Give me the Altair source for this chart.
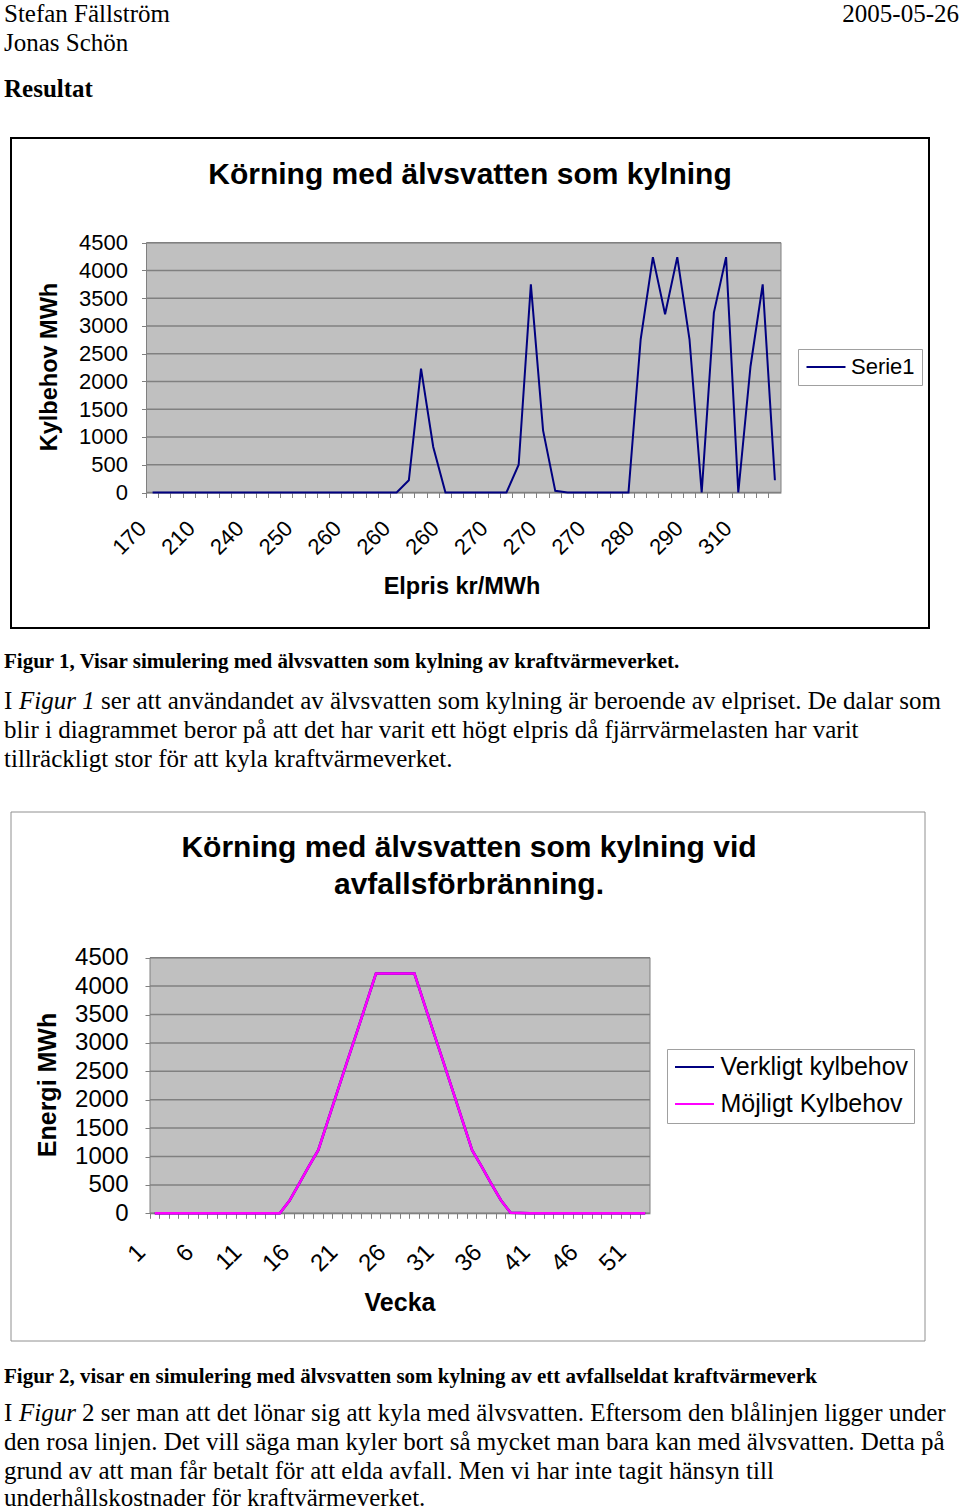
import json
import altair as alt
import pandas as pd

W, H = 960, 1511
SERIF = "Liberation Serif"
SANS = "Liberation Sans"

# ---------------- data ----------------
price_labels = ["170", "210", "240", "250", "260", "260", "260",
                "270", "270", "270", "280", "290", "310"]
kylbehov = ([0] * 21 + [220, 2230, 820, 0] + [0] * 5 + [500, 3750, 1120, 30, 0]
            + [0] * 5 + [2760, 4240, 3210, 4240, 2760, 0, 3240, 4240, 0, 2270, 3750, 220])
weeks = list(range(1, 53))
mojligt = ([0] * 14 + [220, 520, 820, 1110, 1630, 2150, 2670, 3180, 3700]
           + [4220] * 5 + [3700, 3180, 2670, 2150, 1630, 1110, 820, 520, 230, 10, 5]
           + [0] * 13)
verkligt = ([0] * 14 + [220, 520, 820, 1110, 1630, 2150, 2670, 3180, 3700]
            + [4220] * 5 + [3700, 3180, 2670, 2150, 1630, 1110, 820, 520, 230, 10, 5]
            + [0] * 13)
y_ticks = [0, 500, 1000, 1500, 2000, 2500, 3000, 3500, 4000, 4500]

dummy = pd.DataFrame({"d": [0]})


def txt(s, x, y, size=25, font=SERIF, weight="normal", style="normal",
        align="left", baseline="alphabetic", angle=0):
    kw = dict(text=s, font=font, fontSize=size, fontWeight=weight,
              fontStyle=style, align=align, baseline=baseline, color="black")
    if angle:
        kw["angle"] = angle
    return alt.Chart(dummy).mark_text(**kw).encode(x=alt.value(x), y=alt.value(y))


def box(x1, y1, x2, y2, fill, stroke, sw):
    return alt.Chart(dummy).mark_rect(fill=fill, stroke=stroke, strokeWidth=sw).encode(
        x=alt.value(x1), x2=alt.value(x2), y=alt.value(y1), y2=alt.value(y2))


GRID = "#808080"
BG = "#c0c0c0"


def make_panel(px1, px2, py_top, py0, x_enc, y_field, line_df, color_enc, line_w,
               lab_pad, lab_size):
    y_enc = alt.Y(f"{y_field}:Q",
                  scale=alt.Scale(domain=[0, 4500], range=[py0, py_top], nice=False, zero=False),
                  axis=alt.Axis(orient="left", offset=-px1, values=y_ticks, title=None,
                                format="d",
                                grid=False, tickSize=5, tickColor=GRID, domainColor=GRID,
                                labelFont=SANS, labelFontSize=lab_size, labelColor="black",
                                labelPadding=lab_pad))
    bg = box(px1, py_top, px2, py0, BG, GRID, 1)
    grid = alt.Chart(pd.DataFrame({y_field: y_ticks})).mark_rule(
        color=GRID, strokeWidth=1.5).encode(y=y_enc, x=alt.value(px1), x2=alt.value(px2))
    line = alt.Chart(line_df).mark_line(strokeWidth=line_w).encode(
        x=x_enc, y=y_enc, color=color_enc)
    return alt.layer(bg, grid, line)


# ---------------- chart 1 ----------------
c1_x1, c1_x2, c1_top, c1_0 = 146.5, 781, 242.7, 492.5
df1 = pd.DataFrame({"i": list(range(52)), "kyl": kylbehov, "s": ["Serie1"] * 52})
lab_expr1 = f"datum.value % 4 == 0 ? {json.dumps(price_labels)}[datum.value / 4] : ''"
x1 = alt.X("i:O",
           scale=alt.Scale(type="band", domain=list(range(52)), range=[c1_x1, c1_x2],
                           paddingInner=0, paddingOuter=0),
           axis=alt.Axis(orient="bottom", offset=c1_0 - H, bandPosition=0, title=None,
                         labelExpr=lab_expr1, labelAngle=315, labelAlign="right",
                         labelBaseline="middle", labelOffset=-10, labelPadding=27,
                         tickSize=5, tickColor=GRID, domainColor=GRID, grid=False,
                         labelFont=SANS, labelFontSize=22, labelColor="black",
                         labelOverlap=False, labelBound=False, labelFlush=False))
col1 = alt.Color("s:N", scale=alt.Scale(domain=["Serie1"], range=["#000080"]),
                 legend=alt.Legend(orient="none", legendX=798, legendY=349, title=None,
                                   fillColor="white", strokeColor="#a0a0a0", padding=7,
                                   symbolType="M-4,0H4", symbolSize=95, symbolStrokeWidth=2,
                                   symbolOffset=10, labelOffset=14,
                                   labelFont=SANS, labelFontSize=22, labelColor="black",
                                   labelLimit=400))
panel1 = make_panel(c1_x1, c1_x2, c1_top, c1_0, x1, "kyl", df1, col1, 2, 14, 22)

# ---------------- chart 2 ----------------
c2_x1, c2_x2, c2_top, c2_0 = 150, 650, 957.7, 1213.3
series_names = ["Verkligt kylbehov", "Möjligt Kylbehov"]
df2 = pd.DataFrame({
    "v": weeks + weeks,
    "e": verkligt + mojligt,
    "s": [series_names[0]] * 52 + [series_names[1]] * 52,
})
lab_expr2 = "(datum.value - 1) % 5 == 0 ? datum.label : ''"
x2 = alt.X("v:O",
           scale=alt.Scale(type="band", domain=weeks, range=[c2_x1, c2_x2],
                           paddingInner=0, paddingOuter=0),
           axis=alt.Axis(orient="bottom", offset=c2_0 - H, bandPosition=0, title=None,
                         labelExpr=lab_expr2, labelAngle=315, labelAlign="right",
                         labelBaseline="middle", labelOffset=-13, labelPadding=30,
                         tickSize=5, tickColor=GRID, domainColor=GRID, grid=False,
                         labelFont=SANS, labelFontSize=24, labelColor="black",
                         labelOverlap=False, labelBound=False, labelFlush=False))
col2 = alt.Color("s:N", scale=alt.Scale(domain=series_names, range=["#000080", "#ff00ff"]),
                 legend=alt.Legend(orient="none", legendX=667, legendY=1049, title=None,
                                   fillColor="white", strokeColor="#a0a0a0", padding=5.5,
                                   symbolType="M-4,0H4", symbolSize=95, symbolStrokeWidth=2,
                                   symbolOffset=9.5, labelOffset=13.5, rowPadding=11,
                                   labelFont=SANS, labelFontSize=25, labelColor="black",
                                   labelLimit=400))
panel2 = make_panel(c2_x1, c2_x2, c2_top, c2_0, x2, "e", df2, col2, 2.5, 17, 24)

# ---------------- page text & frames ----------------
layers = [
    txt("Stefan Fällström", 4, 22),
    txt("2005-05-26", 959, 22, align="right"),
    txt("Jonas Schön", 4, 51),
    txt("Resultat", 4, 97, weight="bold"),
    box(11, 138, 929, 628, "transparent", "black", 2),
    txt("Körning med älvsvatten som kylning", 470, 184, size=30, font=SANS, weight="bold",
        align="center"),
    txt("Kylbehov MWh", 50, 367, size=23.5, font=SANS, weight="bold", align="center",
        baseline="middle", angle=270),
    txt("Elpris kr/MWh", 462, 587, size=23.5, font=SANS, weight="bold", align="center",
        baseline="middle"),
    txt("Figur 1, Visar simulering med älvsvatten som kylning av kraftvärmeverket.", 4, 668,
        size=21, weight="bold"),
    txt("I", 4, 709),
    txt("Figur 1", 19, 709, style="italic"),
    txt("ser att användandet av älvsvatten som kylning är beroende av elpriset. De dalar som",
        101, 709),
    txt("blir i diagrammet beror på att det har varit ett högt elpris då fjärrvärmelasten har varit",
        4, 738),
    txt("tillräckligt stor för att kyla kraftvärmeverket.", 4, 767),
    box(11, 812, 925, 1341, "transparent", "#909090", 1),
    txt("Körning med älvsvatten som kylning vid", 469, 857, size=30, font=SANS, weight="bold",
        align="center"),
    txt("avfallsförbränning.", 469, 894, size=30, font=SANS, weight="bold", align="center"),
    txt("Energi MWh", 48, 1085, size=25, font=SANS, weight="bold", align="center",
        baseline="middle", angle=270),
    txt("Vecka", 400, 1303, size=25, font=SANS, weight="bold", align="center",
        baseline="middle"),
    txt("Figur 2, visar en simulering med älvsvatten som kylning av ett avfallseldat kraftvärmeverk",
        4, 1383, size=21, weight="bold"),
    txt("I", 4, 1421),
    txt("Figur", 19, 1421, style="italic"),
    txt("2 ser man att det lönar sig att kyla med älvsvatten. Eftersom den blålinjen ligger under",
        82, 1421),
    txt("den rosa linjen. Det vill säga man kyler bort så mycket man bara kan med älvsvatten. Detta på",
        4, 1450),
    txt("grund av att man får betalt för att elda avfall. Men vi har inte tagit hänsyn till",
        4, 1479),
    txt("underhållskostnader för kraftvärmeverket.", 4, 1506),
    panel1,
    panel2,
]

chart = alt.layer(*layers).resolve_scale(
    x="independent", y="independent", color="independent"
).resolve_axis(x="independent", y="independent").resolve_legend(
    color="independent"
).properties(
    width=W, height=H, padding=0, autosize="none", background="white"
).configure_view(stroke=None)

chart.save("out.html", embed_options={"renderer": "svg", "actions": False})
